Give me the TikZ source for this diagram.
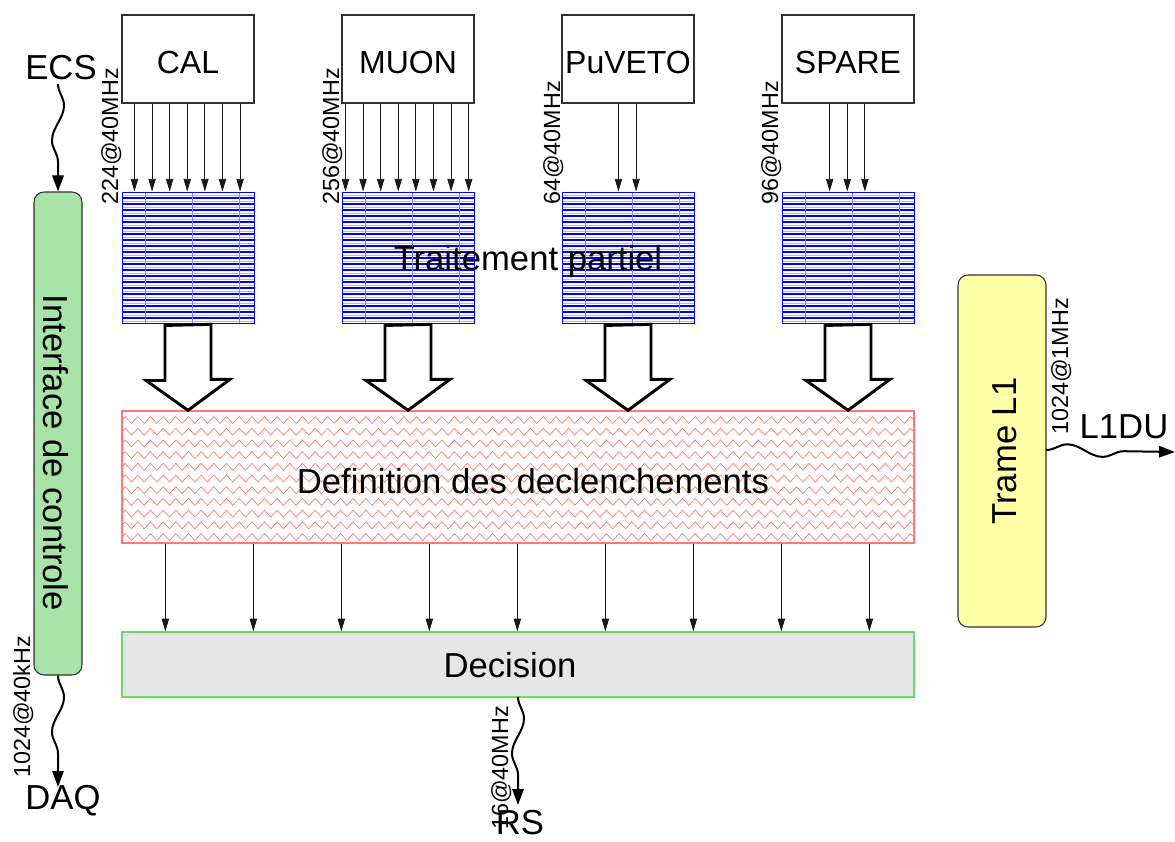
\documentclass[tikz,border=0pt]{standalone}
\usepackage{fontspec}
\setmainfont{Liberation Sans}
\usetikzlibrary{arrows.meta,decorations.pathmorphing,calc}
\definecolor{ifgreen}{HTML}{A8E4A8}
\definecolor{tryellow}{HTML}{FFFFA8}
\definecolor{decgray}{HTML}{E6E6E6}
\definecolor{decgreen}{HTML}{66DD66}
\definecolor{trigred}{HTML}{FF7777}
\definecolor{edgegray}{HTML}{333333}
\begin{document}
\begin{tikzpicture}[x=0.75pt,y=-0.75pt,
  bigfont/.style={font=\fontsize{26}{30}\selectfont},
  srcfont/.style={font=\fontsize{24}{28}\selectfont},
  smallfont/.style={font=\fontsize{17.5}{20}\selectfont},
  srcbox/.style={draw=edgegray, line width=0.8pt, fill=white, minimum width=99pt, minimum height=66pt, inner sep=0pt},
  procbox/.style={draw=blue, line width=0.7pt, minimum width=99pt, minimum height=98.25pt, inner sep=0pt,
    path picture={
      \foreach \k in {1,3,...,43}{\draw[blue!30, line width=0.5pt] ($(path picture bounding box.north west)+(0,\k*3)$) -- ++(140,0);}
      \foreach \k in {2,4,...,42}{\draw[blue, line width=0.8pt] ($(path picture bounding box.north west)+(0,\k*3)$) -- ++(140,0);}
      \foreach \xx in {23,70,117}{\draw[blue!50, line width=0.4pt] ($(path picture bounding box.north west)+(\xx,0)$) -- ++(0,140);}
    }},
  trigbox/.style={draw=trigred, line width=1pt, fill=white, minimum width=594pt, minimum height=99pt, inner sep=0pt,
    path picture={
      \foreach \k in {0,...,10}{\draw[trigred, line width=0.5pt, decorate, decoration={zigzag, segment length=9.5pt, amplitude=2.6pt}] ($(path picture bounding box.north west)+(0,9+\k*11.7)$) -- ++(800,0);}
    }},
  decbox/.style={draw=decgreen, line width=0.9pt, fill=decgray, minimum width=594pt, minimum height=48.75pt, inner sep=0pt},
  roundbox/.style={draw=edgegray, line width=0.8pt, rounded corners=7.5pt, inner sep=0pt},
  arr/.style={-{Triangle[length=9.5pt,width=5.5pt]}, line width=0.65pt, draw=black!90},
  bigarr/.style={draw=black, line width=2.2pt, fill=white, line join=miter},
  snk/.style={line width=1.5pt, -{Triangle[length=12pt,width=8.5pt]}, decorate,
    decoration={snake, segment length=52pt, amplitude=4.5pt, post length=14pt}},
  lbl/.style={smallfont, rotate=90, anchor=base west, inner sep=0pt}
]
\useasboundingbox (0,0) rectangle (1175,842);

% source boxes
\node[srcbox] (cal) at (188,59) {};
\node[srcbox] (muon) at (408,59) {};
\node[srcbox] (puveto) at (628,59) {};
\node[srcbox] (spare) at (848,59) {};
\node[srcfont] (caltxt) at (188,62) {CAL};
\node[srcfont] (muontxt) at (408,62) {MUON};
\node[srcfont] (puvetotxt) at (628,62) {PuVETO};
\node[srcfont] (sparetxt) at (848,62) {SPARE};

% partial processing boxes
\node[procbox] (pcal) at (188,257.5) {};
\node[procbox] (pmuon) at (408,257.5) {};
\node[procbox] (ppuveto) at (628,257.5) {};
\node[procbox] (pspare) at (848,257.5) {};

% thin arrows
\foreach \o in {13,30.6,48.2,65.8,83.4,101,118.6}
  \draw[arr] ($(cal.south west)+(\o,0)$) coordinate (t) -- (t |- pcal.north);
\foreach \o in {4,21.6,39.2,56.8,74.4,92,109.6,127.2}
  \draw[arr] ($(muon.south west)+(\o,0)$) coordinate (t) -- (t |- pmuon.north);
\foreach \o in {57,74.6}
  \draw[arr] ($(puveto.south west)+(\o,0)$) coordinate (t) -- (t |- ppuveto.north);
\foreach \o in {48.2,65.8,83.4}
  \draw[arr] ($(spare.south west)+(\o,0)$) coordinate (t) -- (t |- pspare.north);

% rate labels
\node[lbl] (lcal) at (118,205) {224@40MHz};
\node[lbl] (lmuon) at (339,205) {256@40MHz};
\node[lbl] (lpuveto) at (560,205) {64@40MHz};
\node[lbl] (lspare) at (778,205) {96@40MHz};

% trigger definition box
\node[trigbox] (trig) at (518,477) {};
\node[bigfont] (trigtxt) at (533,481) {Definition des declenchements};

% big arrows
\foreach \p in {pcal,pmuon,ppuveto,pspare}
  \draw[bigarr] ($(\p.south)+(-23,2)$) -- ++(0,55) -- ++(-19,0) -- (\p.south |- trig.north) -- ++(42,-31) -- ++(-19,0) -- ++(0,-55) -- cycle;

% decision
\node[decbox] (dec) at (518,664.5) {};
\node[bigfont] (dectxt) at (510,665) {Decision};
\foreach \o in {44,132,220,308,396,484,572,660,748}
  \draw[arr] ($(trig.south west)+(\o,0)$) coordinate (t) -- (t |- dec.north);

% Traitement partiel label (on top)
\node[bigfont] (tptxt) at (528,262) {Traitement partiel};

% interface box
\node[roundbox, fill=ifgreen, minimum width=36pt, minimum height=362.25pt] (iface) at (58,433.5) {};
\node[bigfont, rotate=-90] (iftxt) at (56,453) {Interface de controle};

% Trame L1
\node[roundbox, fill=tryellow, minimum width=66pt, minimum height=264pt] (trame) at (1002,451) {};
\node[bigfont, rotate=90] (trtxt) at (1005,451) {Trame L1};

% external labels
\node[bigfont, inner sep=0pt] (ecs) at (61,68) {ECS};
\node[bigfont, inner sep=0pt] (daq) at (63,801) {DAQ};
\node[bigfont, inner sep=0pt] (l1du) at (1124,427) {L1DU};
\node[bigfont, inner sep=0pt] (rs) at (520,823) {RS};

\coordinate (ecsend) at (58,84);
\draw[snk] (ecsend) -- (iface.north);
\coordinate (daqend) at (58,787);
\draw[snk] (iface.south) -- (daqend);
\coordinate (rsstart) at (518,697);
\coordinate (rsend) at (518,805);
\draw[snk] (rsstart) -- (rsend);
\coordinate (l1start) at (1046,450);
\coordinate (l1end) at (1175,452);
\draw[snk] (l1start) -- (l1end);

\node[lbl] (ldaq) at (30,778) {1024@40kHz};
\node[lbl] (ltrame) at (1068,435) {1024@1MHz};
\node[lbl] (lrs) at (508,830) {16@40MHz};
\end{tikzpicture}
\end{document}
